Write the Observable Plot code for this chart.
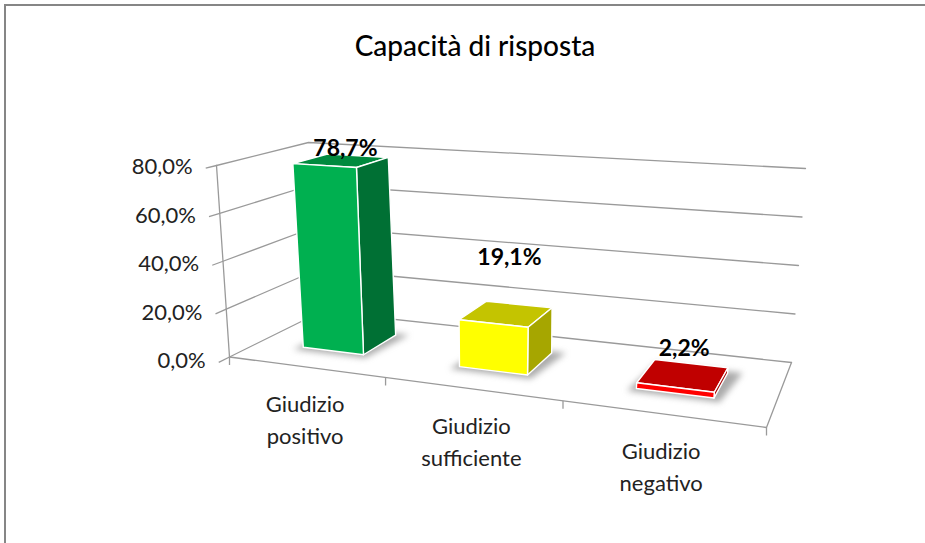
<!DOCTYPE html>
<html><head><meta charset="utf-8">
<script src="https://cdn.jsdelivr.net/npm/d3@7"></script>
<script src="https://cdn.jsdelivr.net/npm/@observablehq/plot@0.6"></script>
<style>
html,body{margin:0;padding:0;background:#fff}
#chart{position:absolute;left:0;top:0;width:925px;height:543px;overflow:hidden}
#chart svg{display:block}
#edge{position:absolute;left:4px;top:4px;width:940px;height:560px;border-left:2px solid #868686;border-top:2px solid #868686}
</style></head><body>
<div id="chart"></div><div id="edge"></div>
<script>
// Data
const categories = [["Giudizio","positivo"],["Giudizio","sufficiente"],["Giudizio","negativo"]];
const values = [78.7,19.1,2.2];
const valueLabels = ["78,7%","19,1%","2,2%"];
const ticks = [0,20,40,60,80];
const tickLabels = ["0,0%","20,0%","40,0%","60,0%","80,0%"];
const frontColors = ["#00b050","#ffff00","#ff0000"];
const sideColors = ["#007034","#a6a600","#a30000"];
const topColors = ["#008a3e","#c4c400","#c00000"];
const title = "Capacità di risposta";

// Camera calibration: cube corners in the picture (front-left, front-right, back-right, back-left)
const floorQuad = [[229,356.5],[766,427],[791,362],[321,311]];
const ceilQuad = [[216,165],[785,201],[805,168],[308,142]];
const vMax = 80;
function homography(q){
  const [[x0,y0],[x1,y1],[x2,y2],[x3,y3]] = q;
  const dx1=x1-x2,dx2=x3-x2,sx=x0-x1+x2-x3,dy1=y1-y2,dy2=y3-y2,sy=y0-y1+y2-y3;
  const den=dx1*dy2-dx2*dy1;
  const g=(sx*dy2-dx2*sy)/den,h=(dx1*sy-sx*dy1)/den;
  const a=x1-x0+g*x1,b=x3-x0+h*x3,d=y1-y0+g*y1,e=y3-y0+h*y3;
  return (u,w)=>{const k=g*u+h*w+1;return [(a*u+b*w+x0)/k,(d*u+e*w+y0)/k];};
}
const H0=homography(floorQuad),H1=homography(ceilQuad);
function proj(u,w,v){
  const p=H0(u,w),q=H1(u,w),t=v/vMax;
  return {x:p[0]+(q[0]-p[0])*t,y:p[1]+(q[1]-p[1])*t};
}
const n=categories.length;
const barW=0.4/n, d0=0.3, d1=0.7;
const polys=[],shadows=[];
function face(id,color,pts){pts.concat([pts[0]]).forEach(p=>polys.push({...p,id,color}));}
values.forEach((val,i)=>{
  const c=(i+.5)/n,u0=c-barW/2,u1=c+barW/2;
  [[u0-.012,d0-.05],[u1+.012,d0-.05],[u1+.025,d1+.03],[u0+.0,d1+.03]].forEach(([u,w])=>shadows.push({...proj(u,w,0),id:i}));
  face("top"+i,topColors[i],[proj(u0,d0,val),proj(u1,d0,val),proj(u1,d1,val),proj(u0,d1,val)]);
  face("side"+i,sideColors[i],[proj(u1,d0,0),proj(u1,d1,0),proj(u1,d1,val),proj(u1,d0,val)]);
  face("front"+i,frontColors[i],[proj(u0,d0,0),proj(u1,d0,0),proj(u1,d0,val),proj(u0,d0,val)]);
});
const grid=[];
ticks.forEach(t=>{
  [proj(0,0,t),proj(0,1,t),proj(1,1,t)].forEach(p=>grid.push({...p,id:"g"+t}));
});
[proj(0,0,0),proj(0,0,vMax)].forEach(p=>grid.push({...p,id:"axis"}));
[proj(0,0,0),proj(1,0,0),proj(1,1,0)].forEach(p=>grid.push({...p,id:"floor"}));
const yTicks=ticks.map((t,i)=>{const a=proj(0,0,t),b=proj(0,-0.1,t);return {x1:a.x,y1:a.y,x2:b.x,y2:b.y,label:tickLabels[i]};});
const xTicks=d3.range(n+1).map(i=>{const a=proj(i/n,0,0);return {x1:a.x,y1:a.y,x2:a.x,y2:a.y+8};});
const catRows=categories.map((lines,i)=>({...proj((i+.5)/n,0,0),text:lines.join("\n")}));
const valRows=values.map((val,i)=>({...proj((i+.5)/n,.5,val),text:valueLabels[i]}));
const valueLift=[-12,-56,-26];
const valueShift=[4,3,1];

const font="Lato, 'Open Sans', sans-serif";
const plot=Plot.plot({
  width:925,height:543,margin:0,
  x:{domain:[0,925],range:[0,925],axis:null},
  y:{domain:[0,543],range:[0,543],axis:null},
  color:{type:"identity"},
  style:{fontFamily:font,background:"transparent"},
  marks:[
    Plot.text([title],{frameAnchor:"top",dy:47,dx:12,fontSize:28,fontWeight:500,fill:"#000",lineAnchor:"middle"}),
    Plot.line(grid,{x:"x",y:"y",z:"id",stroke:"#9a9a9a",strokeWidth:1.3}),
    Plot.link(yTicks,{x1:"x1",y1:"y1",x2:"x2",y2:"y2",stroke:"#9a9a9a",strokeWidth:1.3}),
    Plot.link(xTicks,{x1:"x1",y1:"y1",x2:"x2",y2:"y2",stroke:"#9a9a9a",strokeWidth:1.3}),
    Plot.text(yTicks,{x:"x2",y:"y2",text:"label",textAnchor:"end",dx:-13,dy:-1,fontSize:22,fill:"#222"}),
    Plot.line(shadows,{x:"x",y:"y",z:"id",fill:"#666",stroke:"none",fillOpacity:.55,imageFilter:"blur(3px)"}),
    Plot.line(polys,{x:"x",y:"y",z:"id",fill:"color",stroke:"#fff",strokeWidth:1.4,strokeLinejoin:"round"}),
    Plot.text(catRows,{x:"x",y:"y",text:"text",dy:51,fontSize:22,lineHeight:1.45,fill:"#222"}),
    ...valRows.map((r,i)=>Plot.text([r],{x:"x",y:"y",text:"text",dx:valueShift[i],dy:valueLift[i],fontSize:23,fontWeight:700,fill:"#000"}))
  ]
});
document.getElementById("chart").appendChild(plot);
</script>
</body></html>
